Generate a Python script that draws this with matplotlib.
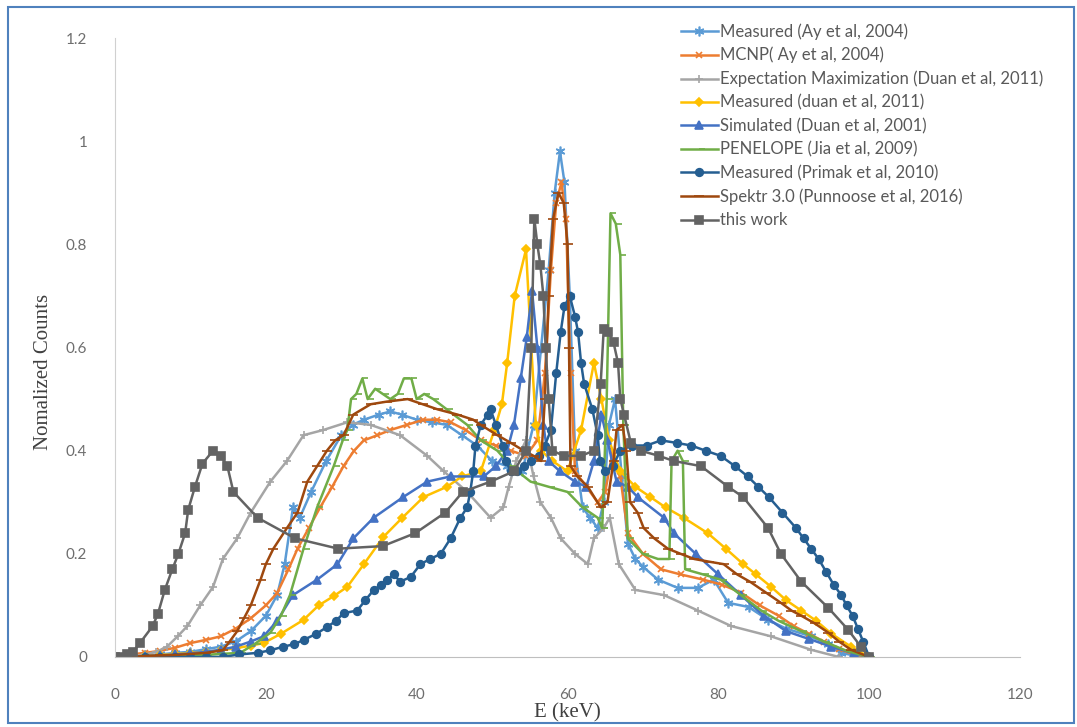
import numpy as np
import matplotlib
matplotlib.use("Agg")
import matplotlib.pyplot as plt
from matplotlib.patches import Rectangle

# spectra, (E keV, normalized counts)
ay_measured = [(0, 0), (2, 0), (4, 0.003), (6, 0.005), (8, 0.008), (10, 0.01), (12, 0.015), (14, 0.02),
               (16, 0.03), (18, 0.05), (20, 0.08), (21.5, 0.12), (22.5, 0.18), (23.6, 0.29), (24.5, 0.27),
               (26, 0.32), (28, 0.38), (30, 0.43), (31.5, 0.45), (33, 0.46), (35, 0.47), (36.5, 0.476),
               (38, 0.47), (40, 0.46), (42, 0.455), (44, 0.45), (46, 0.43), (48, 0.41), (50, 0.38),
               (52, 0.37), (54, 0.36), (55.5, 0.45), (56.5, 0.6), (57.5, 0.75), (58.3, 0.9), (59, 0.98),
               (59.6, 0.92), (60.3, 0.7), (61, 0.4), (62, 0.29), (63, 0.27), (64, 0.25), (64.8, 0.3),
               (65.5, 0.45), (66.3, 0.5), (67.2, 0.35), (68, 0.22), (69, 0.19), (70, 0.175), (72, 0.15),
               (74.6, 0.134), (77.3, 0.134), (79.4, 0.15), (81.3, 0.105), (84, 0.097), (86.6, 0.072),
               (89, 0.055), (92.3, 0.04), (94.5, 0.025), (96.3, 0.008), (98, 0.003), (100, 0)]

ay_mcnp = [(0, 0), (2, 0.005), (4, 0.008), (6, 0.012), (8, 0.018), (10, 0.027), (12, 0.033), (14, 0.04),
           (16, 0.055), (18, 0.075), (20, 0.1), (21.5, 0.124), (23, 0.17), (24.2, 0.21), (25.7, 0.25),
           (27.2, 0.29), (28.8, 0.33), (30.3, 0.37), (31.7, 0.4), (33, 0.42), (34.8, 0.43), (36.5, 0.44),
           (38.7, 0.45), (40.9, 0.46), (42.7, 0.46), (44.5, 0.455), (46.5, 0.44), (48.5, 0.42),
           (50.5, 0.41), (52.5, 0.4), (54.5, 0.39), (56, 0.42), (57, 0.55), (57.8, 0.75), (58.5, 0.88),
           (59.2, 0.92), (59.8, 0.85), (60.4, 0.55), (61, 0.36), (62.5, 0.33), (64, 0.3), (65, 0.32),
           (66, 0.4), (67, 0.35), (68, 0.24), (70, 0.2), (72.4, 0.17), (75, 0.16), (78, 0.15),
           (80.5, 0.14), (83, 0.125), (85.5, 0.1), (88, 0.08), (90, 0.06), (92, 0.045), (94, 0.03),
           (96, 0.015), (98, 0.005), (100, 0)]

duan_em = [(0, 0), (2, 0), (4, 0.005), (5.5, 0.01), (6.9, 0.02), (8.3, 0.04), (9.6, 0.06), (11.3, 0.1),
           (13, 0.136), (14.3, 0.19), (16.2, 0.23), (18, 0.28), (20.6, 0.34), (22.8, 0.38), (25, 0.43),
           (27.6, 0.44), (30.8, 0.455), (33.9, 0.45), (37.8, 0.43), (41.4, 0.39), (43.6, 0.36),
           (46.7, 0.32), (49.8, 0.27), (51.5, 0.29), (52.2, 0.33), (53.2, 0.38), (54.5, 0.42),
           (55.5, 0.35), (56.4, 0.3), (57.8, 0.27), (59.1, 0.23), (61, 0.2), (62.7, 0.18), (63.5, 0.23),
           (64.8, 0.25), (65.6, 0.27), (66.8, 0.18), (69, 0.13), (72.8, 0.12), (77.3, 0.09),
           (81.7, 0.06), (87, 0.04), (92.3, 0.014), (96, 0)]

duan_measured = [(0, 0), (2, 0), (4, 0.002), (6, 0.004), (8, 0.006), (10, 0.008), (12, 0.01), (14, 0.013),
                 (16, 0.017), (18, 0.022), (19.7, 0.027), (22, 0.045), (25, 0.072), (27, 0.1), (29, 0.118),
                 (30.8, 0.136), (33, 0.18), (35.6, 0.233), (38.1, 0.27), (40.9, 0.31), (44, 0.33),
                 (46, 0.35), (48.5, 0.36), (50.3, 0.44), (51.3, 0.49), (52, 0.57), (53, 0.7), (54.5, 0.79),
                 (55.2, 0.6), (55.8, 0.45), (56.5, 0.4), (58, 0.38), (60, 0.36), (61.8, 0.44), (63.5, 0.57),
                 (64.5, 0.5), (65.5, 0.42), (67, 0.36), (69, 0.33), (71, 0.31), (73, 0.29), (75.4, 0.27),
                 (78.6, 0.24), (81, 0.21), (83.3, 0.18), (85, 0.16), (87, 0.136), (89, 0.11), (91, 0.09),
                 (93, 0.07), (95, 0.045), (97.6, 0.02), (100, 0)]

duan_simulated = [(0, 0), (2, 0), (4, 0.002), (6, 0.003), (8, 0.005), (10, 0.007), (12, 0.01), (14, 0.014),
                  (16, 0.02), (18, 0.03), (19.7, 0.04), (21.5, 0.07), (23.6, 0.12), (26.8, 0.15),
                  (29.5, 0.18), (31.6, 0.23), (34.3, 0.27), (38.2, 0.31), (41.4, 0.34), (44.5, 0.35),
                  (48.9, 0.35), (50.5, 0.37), (52, 0.4), (52.9, 0.45), (53.8, 0.54), (54.6, 0.62),
                  (55.3, 0.71), (56, 0.6), (56.8, 0.45), (57.5, 0.38), (59, 0.36), (61, 0.34), (62.5, 0.33),
                  (63.5, 0.38), (64.5, 0.47), (65.3, 0.42), (66.5, 0.34), (68, 0.33), (69.3, 0.31),
                  (72.8, 0.27), (74.1, 0.24), (77, 0.2), (80, 0.16), (83, 0.12), (86, 0.08), (89, 0.05),
                  (92, 0.035), (95, 0.02), (98, 0.007), (100, 0)]

jia_penelope = [(0, 0), (4, 0), (8, 0.002), (12, 0.004), (14, 0.006), (16.6, 0.008), (18.5, 0.025),
                (20.6, 0.047), (22, 0.08), (23.2, 0.12), (25, 0.21), (26.8, 0.29), (29, 0.37), (30.2, 0.42),
                (30.8, 0.44), (31.3, 0.5), (32, 0.51), (32.8, 0.54), (33.5, 0.5), (34.5, 0.52),
                (35.5, 0.51), (36.5, 0.5), (37.5, 0.51), (38.3, 0.54), (39.3, 0.54), (40, 0.5), (41, 0.51),
                (42.2, 0.5), (44, 0.48), (46.7, 0.45), (48.5, 0.42), (50.7, 0.4), (52.5, 0.37),
                (55.1, 0.34), (57.5, 0.33), (60, 0.32), (62, 0.29), (64, 0.27), (64.6, 0.25), (65.2, 0.5),
                (65.7, 0.86), (66.4, 0.84), (67, 0.78), (67.4, 0.45), (68, 0.23), (70, 0.2), (72, 0.19),
                (73.5, 0.19), (73.8, 0.38), (74.6, 0.4), (75.3, 0.38), (75.6, 0.17), (78, 0.16),
                (80.3, 0.15), (83, 0.12), (85.7, 0.09), (88, 0.07), (91, 0.05), (94, 0.03), (97, 0.012),
                (100, 0)]

primak_measured = [(0, 0), (2, 0), (4, 0), (6, 0), (8, 0), (10, 0), (12, 0), (14.3, 0), (16.5, 0.005),
                   (18.9, 0.008), (20.6, 0.013), (22.3, 0.02), (23.8, 0.025), (25, 0.033), (26.7, 0.045),
                   (28.1, 0.058), (29.3, 0.07), (30.3, 0.085), (32.1, 0.09), (33.2, 0.11), (34.3, 0.13),
                   (35.3, 0.14), (36.1, 0.15), (37, 0.16), (37.8, 0.146), (39.2, 0.155), (40.5, 0.18),
                   (41.8, 0.19), (43.2, 0.2), (44.5, 0.23), (45.8, 0.27), (46.7, 0.29), (47.1, 0.32),
                   (47.5, 0.36), (47.8, 0.41), (48.5, 0.45), (49.4, 0.47), (49.8, 0.48), (50.5, 0.45),
                   (51.4, 0.41), (51.8, 0.38), (52.5, 0.36), (53.3, 0.36), (54.2, 0.37), (55.2, 0.38),
                   (56.2, 0.39), (57, 0.41), (57.8, 0.44), (58.5, 0.55), (59.1, 0.63), (59.6, 0.68),
                   (60.3, 0.7), (61, 0.66), (61.4, 0.63), (61.8, 0.57), (62.2, 0.53), (63.3, 0.48),
                   (64, 0.43), (64.3, 0.38), (65, 0.36), (66, 0.37), (67, 0.4), (68.5, 0.41), (70.5, 0.41),
                   (72.4, 0.42), (74.5, 0.415), (76.4, 0.41), (78.3, 0.4), (80.3, 0.39), (82.2, 0.37),
                   (83.9, 0.35), (85.3, 0.33), (86.7, 0.31), (88.5, 0.28), (90.3, 0.25), (91.3, 0.23),
                   (92.3, 0.21), (93.3, 0.19), (94.3, 0.165), (95.3, 0.14), (96.3, 0.12), (97, 0.1),
                   (97.8, 0.08), (98.5, 0.055), (99.2, 0.03), (100, 0)]

spektr = [(0, 0), (2, 0), (4, 0.002), (6, 0.003), (8, 0.004), (10, 0.006), (12, 0.008), (14.3, 0.013),
          (15.2, 0.03), (16.2, 0.05), (17.1, 0.075), (18, 0.1), (19.3, 0.15), (20, 0.18), (21, 0.21),
          (22.8, 0.25), (24.2, 0.28), (25.5, 0.34), (26.8, 0.37), (28.1, 0.4), (29.2, 0.42), (30.3, 0.43),
          (31.6, 0.47), (33.9, 0.49), (36, 0.495), (38.8, 0.5), (40.8, 0.49), (42.8, 0.48), (45.4, 0.47),
          (47.5, 0.46), (48.5, 0.45), (50.7, 0.43), (52.5, 0.415), (54.2, 0.4), (55.5, 0.39),
          (56.5, 0.38), (57, 0.5), (57.5, 0.7), (58.1, 0.85), (58.8, 0.9), (59.5, 0.88), (60, 0.8),
          (60.2, 0.6), (60.4, 0.37), (61.3, 0.35), (62.7, 0.33), (64.4, 0.29), (65.3, 0.3), (66.1, 0.38),
          (66.5, 0.44), (67.3, 0.45), (67.8, 0.4), (68.3, 0.3), (69.3, 0.28), (70.1, 0.25), (71.5, 0.23),
          (73.3, 0.21), (75, 0.2), (76.8, 0.19), (78.7, 0.185), (80.7, 0.18), (82.5, 0.16), (84.3, 0.145),
          (86.3, 0.125), (88.3, 0.105), (89.7, 0.09), (91, 0.08), (92.8, 0.065), (94.6, 0.047),
          (96, 0.03), (97.6, 0.014), (100, 0)]

this_work = [(0, 0), (0.8, 0), (1.6, 0.005), (2.4, 0.01), (3.3, 0.027), (5, 0.06), (5.7, 0.084),
             (6.6, 0.13), (7.6, 0.17), (8.4, 0.2), (9.3, 0.24), (9.7, 0.285), (10.6, 0.33), (11.6, 0.375),
             (13, 0.4), (14, 0.39), (14.9, 0.37), (15.7, 0.32), (18.9, 0.27), (23.9, 0.23), (29.6, 0.21),
             (35.5, 0.215), (39.8, 0.24), (43.8, 0.28), (46.1, 0.32), (49.8, 0.34), (52.9, 0.36),
             (54.5, 0.4), (55.2, 0.6), (55.6, 0.85), (56, 0.8), (56.4, 0.76), (56.8, 0.7), (57.1, 0.6),
             (57.5, 0.5), (58, 0.4), (59.5, 0.39), (61.8, 0.39), (63.5, 0.4), (64.4, 0.53), (64.8, 0.635),
             (65.4, 0.63), (66.1, 0.61), (66.7, 0.57), (67, 0.5), (67.5, 0.47), (68.4, 0.415), (69.7, 0.4),
             (72.1, 0.39), (74.1, 0.38), (77.7, 0.37), (81.3, 0.33), (83.3, 0.31), (86.6, 0.25),
             (88.3, 0.2), (91, 0.146), (94.6, 0.095), (97.2, 0.053), (98.9, 0.02), (100, 0)]

labels = ["Measured (Ay et al, 2004)", "MCNP( Ay et al, 2004)",
          "Expectation Maximization (Duan et al, 2011)", "Measured (duan et al, 2011)",
          "Simulated (Duan et al, 2001)", "PENELOPE (Jia et al, 2009)",
          "Measured (Primak et al, 2010)", "Spektr 3.0 (Punnoose et al, 2016)", "this work"]
series = [ay_measured, ay_mcnp, duan_em, duan_measured, duan_simulated,
          jia_penelope, primak_measured, spektr, this_work]

# excel office palette + marker per series
colors = ["#5B9BD5", "#ED7D31", "#A5A5A5", "#FFC000", "#4472C4",
          "#70AD47", "#255E91", "#9E480E", "#636363"]
markers = [(6, 2, 0), "x", "+", "D", "^", 1, "o", "_", "s"]
msizes = [7, 5, 6, 4.5, 5.5, 4, 5.5, 7, 6]

fig = plt.figure(figsize=(10.77, 7.27), dpi=100)
ax = fig.add_axes([115/1077, 1 - 657/727, (1020 - 115)/1077, (657 - 38)/727])

for pts, lab, c, m, ms in zip(series, labels, colors, markers, msizes):
    e, n = zip(*pts)
    ax.plot(e, n, color=c, lw=1.8, marker=m, ms=ms, mew=1.2, mfc=c, mec=c, label=lab)

ax.set_xlim(0, 120)
ax.set_ylim(0, 1.2)
ax.set_xticks(np.arange(0, 121, 20))
ax.set_yticks(np.arange(0, 1.21, 0.2))
ax.set_yticklabels(["0", "0.2", "0.4", "0.6", "0.8", "1", "1.2"])
for s in ["top", "right"]:
    ax.spines[s].set_visible(False)
ax.spines["left"].set_color("#D0D0D0")
ax.spines["bottom"].set_color("#BFBFBF")
ax.tick_params(length=0, labelsize=11, labelcolor="#6E6E6E")
ax.tick_params(axis="x", pad=22)
ax.tick_params(axis="y", pad=20)
for t in ax.get_xticklabels() + ax.get_yticklabels():
    t.set_family("Lato")

ax.set_ylabel("Nomalized Counts", family="Liberation Serif", fontsize=15, color="#404040")
ax.yaxis.set_label_coords(-0.069, 0.46)
ax.set_xlabel("E (keV)", family="Liberation Serif", fontsize=15, color="#404040", labelpad=1)

leg = ax.legend(loc="upper left", bbox_to_anchor=(681/1077, 1 - 23/727), bbox_transform=fig.transFigure,
                frameon=False, prop={"family": "Lato", "size": 12}, labelspacing=0.44,
                handlelength=2.2, handletextpad=0.12, borderpad=0, borderaxespad=0)
for t in leg.get_texts():
    t.set_color("#595959")

# blue frame round the picture
fig.patches.append(Rectangle((8/1077, 4/727), 1066/1077, 716/727, transform=fig.transFigure,
                             fill=False, ec="#4F81BD", lw=1.5))

fig.savefig("out.png", dpi=100)
